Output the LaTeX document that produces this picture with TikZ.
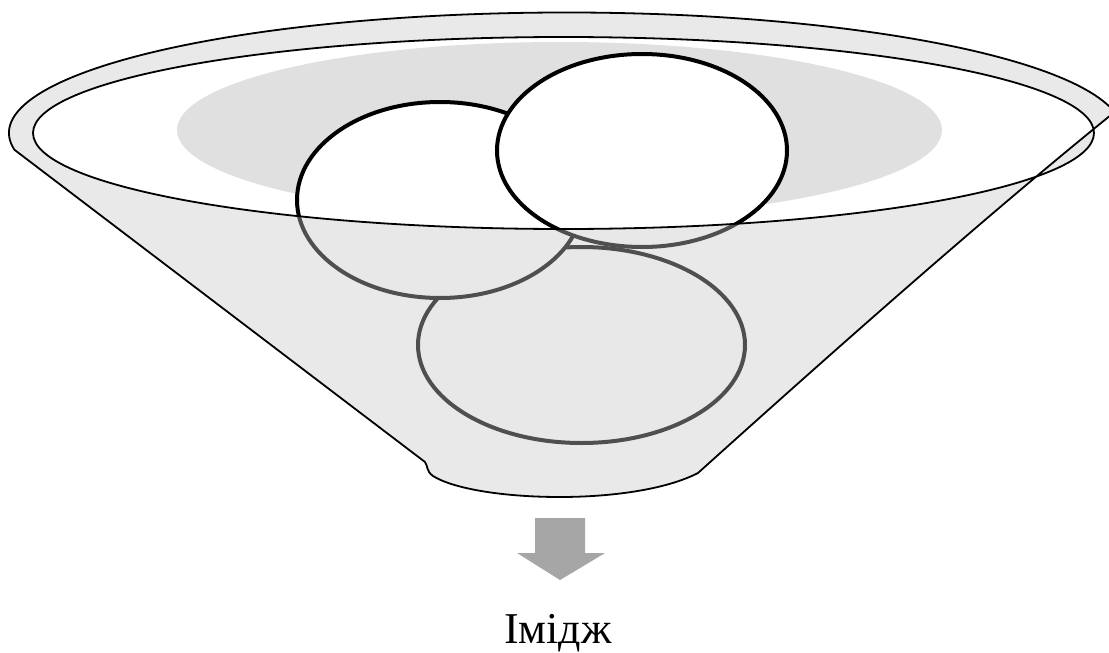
\documentclass[tikz,border=0pt]{standalone}
\usepackage{fontspec}
\setmainfont{Liberation Serif}
\usepackage{tikz}

\definecolor{glass}{gray}{0.78}
\definecolor{liquid}{gray}{0.88}
\definecolor{arrowgray}{gray}{0.65}

\begin{document}
\begin{tikzpicture}[x=1pt, y=-1pt,
  egg/.style={draw=black, fill=white, line width=4pt},
  rim/.style={draw=black, line width=1.8pt, line join=round}]
  \useasboundingbox (0,0) rectangle (1109,653);
  \clip (0,0) rectangle (1109,653);
  % what lies in the bowl
  \fill[liquid] (559.5,130) ellipse (382.5 and 88);
  \draw[egg] (581.5,345) ellipse (163.5 and 98);
  \draw[egg] (440,200) ellipse (143 and 98);
  \draw[egg] (642,150.5) ellipse (145 and 96.5);
  % funnel: glass body over the eggs, the opening left clear
  \path[rim, fill=glass, fill opacity=0.4, even odd rule]
    (566,133) ++(172:557 and 120.5) arc[start angle=172, end angle=350, x radius=557, y radius=120.5]
    .. controls (984.5,217) and (828,356) .. (698,473)
    .. controls (665,490) and (610,497) .. (560,497)
    .. controls (500,497) and (452,488) .. (433,476)
    .. controls (426,471) and (428,466) .. (425,462) -- cycle
    (563.5,133) ellipse (530.5 and 96);
  % arrow and label
  \fill[arrowgray] (535,518) -- (585,518) -- (585,553) -- (605,553) -- (560,580) -- (517,553) -- (535,553) -- cycle;
  \node[anchor=base, font=\fontsize{44}{52}\selectfont] (image) at (558,643) {Імідж};
\end{tikzpicture}
\end{document}
